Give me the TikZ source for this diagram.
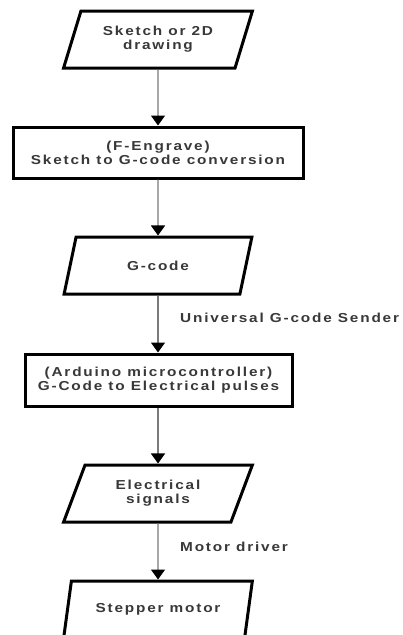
\documentclass[tikz,border=0pt]{standalone}
\usepackage{fontspec}
\setmainfont{Liberation Sans}[FakeStretch=1.18,LetterSpace=14]
\usetikzlibrary{shapes.geometric,arrows.meta}
\definecolor{txt}{HTML}{383838}
\definecolor{arr}{HTML}{7A7A7A}
\begin{document}
\begin{tikzpicture}[x=1pt,y=-1pt,
  every node/.append style={font=\bfseries\fontsize{13}{14}\selectfont, text=txt, align=center},
  io/.style={draw=black, line width=3pt, trapezium, trapezium left angle=64.6, trapezium right angle=115.4, trapezium stretches=true, minimum width=189pt, minimum height=57pt, inner sep=0pt, fill=white},
  proc/.style={draw=black, line width=3pt, rectangle, inner sep=0pt, fill=white},
  flow/.style={draw=arr, line width=1.4pt, -{Triangle[width=14pt,length=10pt,black]}},
  lbl/.style={anchor=west, inner sep=0pt}
]
\useasboundingbox[fill=white] (0,0) rectangle (403,635);
\node[io] (p1) at (158,39.5) {Sketch or 2D\\drawing};
\node[proc, minimum width=290pt, minimum height=51pt] (b2) at (158,152.5) {(F-Engrave)\\Sketch to G-code conversion};
\node[io] (p3) at (158,265.5) {G-code};
\node[proc, minimum width=267pt, minimum height=52pt] (b4) at (158.5,380) {(Arduino microcontroller)\\G-Code to Electrical pulses};
\node[io] (p5) at (158,493.5) {Electrical\\signals};
\node[io] (p6) at (158,609.5) {Stepper motor};
\draw[flow] (p1.south) -- (b2.north);
\draw[flow] (b2.south) -- (p3.north);
\draw[flow] (p3.south) -- (p3.south |- b4.north);
\draw[flow] (b4.south -| p5.north) -- (p5.north);
\draw[flow] (p5.south) -- (p6.north);
\node[lbl] (l1) at (180,318) {Universal G-code Sender};
\node[lbl] (l2) at (180,547) {Motor driver};
\end{tikzpicture}
\end{document}
